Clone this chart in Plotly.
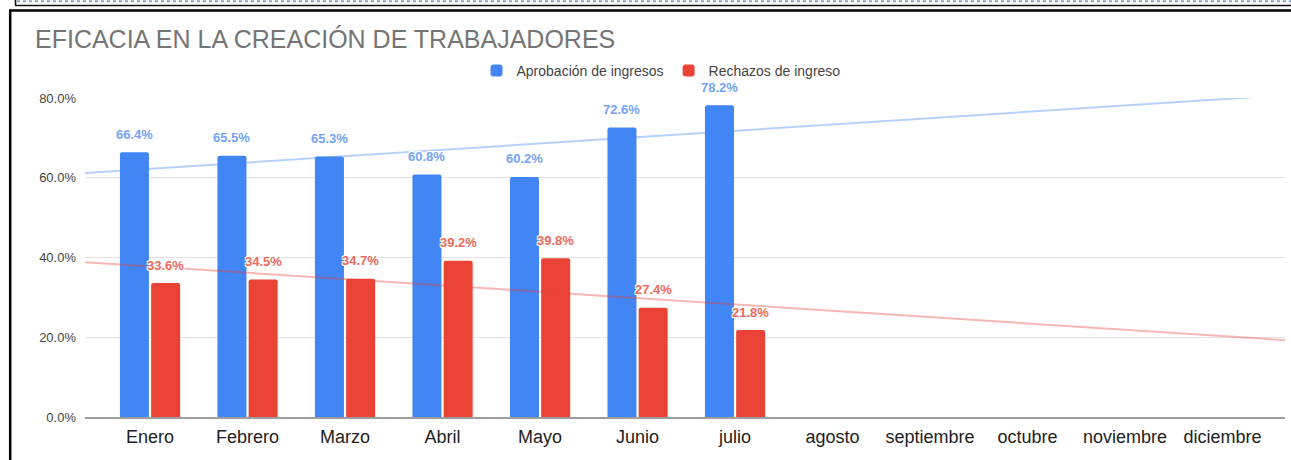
import numpy as np
import plotly.graph_objects as go

# ---------------- data ----------------
months = ["Enero", "Febrero", "Marzo", "Abril", "Mayo", "Junio", "julio",
          "agosto", "septiembre", "octubre", "noviembre", "diciembre"]
aprobacion = [66.4, 65.5, 65.3, 60.8, 60.2, 72.6, 78.2]
rechazos = [33.6, 34.5, 34.7, 39.2, 39.8, 27.4, 21.8]
y_ticks = [0, 20, 40, 60, 80]
y_ticktext = ["0.0%", "20.0%", "40.0%", "60.0%", "80.0%"]
series_names = ["Aprobación de ingresos", "Rechazos de ingreso"]
title_text = "EFICACIA EN LA CREACIÓN DE TRABAJADORES"

# ---------------- styling / layout ----------------
W, H = 1291, 460
L, R, T, B = 85, 1285, 98, 417          # plot area in pixels
x_range = [-0.667, 11.64]
y_range = [0, 80]
BLUE, RED = "#4285F4", "#EA4335"
BLUE_LBL, RED_LBL = "#74A3F7", "#EE6A5E"
BARGAP = 0.36
FONT = "Liberation Sans, Arial, sans-serif"


def px_x(p):
    return (p - L) / (R - L)


def px_y(p):
    return (B - p) / (B - T)


cat_px = (R - L) / (x_range[1] - x_range[0])
slot_px = (1 - BARGAP) * cat_px / 2

fig = go.Figure()
idx = np.arange(len(aprobacion))
for vals, name, col in [(aprobacion, series_names[0], BLUE), (rechazos, series_names[1], RED)]:
    fig.add_trace(go.Bar(x=idx, y=vals, name=name, marker=dict(color=col, cornerradius=2, line_width=0),
                         hoverinfo="skip"))

# trend lines (linear least squares of each series)
for vals, col in [(aprobacion, "rgba(66,133,244,0.38)"), (rechazos, "rgba(234,67,53,0.38)")]:
    coef = np.polyfit(idx, vals, 1)
    xs = np.array(x_range)
    fig.add_trace(go.Scatter(x=xs, y=np.polyval(coef, xs), mode="lines",
                             line=dict(color=col, width=2), showlegend=False, hoverinfo="skip"))

halo = "-1px -1px 0 #fff, 1px -1px 0 #fff, -1px 1px 0 #fff, 1px 1px 0 #fff, 0 1px 0 #fff, 0 -1px 0 #fff"
annotations = []
for vals, col, sgn in [(aprobacion, BLUE_LBL, -1), (rechazos, RED_LBL, 1)]:
    for i, v in enumerate(vals):
        annotations.append(dict(x=i, y=v, xref="x", yref="y", text=f"{v:.1f}%", showarrow=False,
                                xshift=sgn * slot_px / 2, yshift=18,
                                font=dict(family=FONT, size=13, color=col, weight="bold", shadow=halo)))

shapes = [
    # upper box remnants
    dict(type="line", xref="paper", yref="paper", x0=px_x(17), x1=px_x(W), y0=px_y(1.2), y1=px_y(1.2),
         line=dict(color="#8DA3C6", width=2, dash="dot")),
    dict(type="line", xref="paper", yref="paper", x0=px_x(15), x1=px_x(W), y0=px_y(5.5), y1=px_y(5.5),
         line=dict(color="#111", width=1.6)),
    dict(type="line", xref="paper", yref="paper", x0=px_x(15.5), x1=px_x(15.5), y0=px_y(-5), y1=px_y(5.5),
         line=dict(color="#111", width=1.6)),
    # main frame
    dict(type="line", xref="paper", yref="paper", x0=px_x(9), x1=px_x(W), y0=px_y(10.5), y1=px_y(10.5),
         line=dict(color="#000", width=2.5)),
    dict(type="line", xref="paper", yref="paper", x0=px_x(10.2), x1=px_x(10.2), y0=px_y(9.5), y1=px_y(H),
         line=dict(color="#000", width=2.5)),
]

fig.update_layout(
    width=W, height=H,
    margin=dict(l=L, r=W - R, t=T, b=H - B, pad=0),
    paper_bgcolor="white", plot_bgcolor="white",
    barmode="group", bargap=BARGAP, bargroupgap=0.07,
    font=dict(family=FONT, color="#444"),
    title=dict(text=title_text, x=35 / W, xref="container", xanchor="left",
               y=1 - 39 / H, yref="container", yanchor="middle",
               font=dict(family=FONT, size=25, color="#757575")),
    legend=dict(orientation="h", x=px_x(661), xanchor="center", y=px_y(71), yanchor="middle",
                font=dict(family=FONT, size=14, color="#444"), bgcolor="rgba(0,0,0,0)",
                itemclick=False, itemdoubleclick=False),
    xaxis=dict(range=x_range, tickmode="array", tickvals=list(range(len(months))), ticktext=months,
               showgrid=False, zeroline=False, showline=True, linecolor="#9E9E9E", linewidth=1.5,
               tickfont=dict(family=FONT, size=18, color="#222"), ticklabelstandoff=3, fixedrange=True),
    yaxis=dict(range=y_range, tickmode="array", tickvals=y_ticks, ticktext=y_ticktext,
               showgrid=True, gridcolor="#E3E3E3", gridwidth=1, zeroline=False,
               tickfont=dict(family=FONT, size=13, color="#444"), ticklabelstandoff=8, fixedrange=True),
    annotations=annotations,
    shapes=shapes,
    showlegend=True,
)

fig.write_html("out.html", config={"displayModeBar": False},
               post_script="document.body.style.margin='0';document.body.style.overflow='hidden';")
